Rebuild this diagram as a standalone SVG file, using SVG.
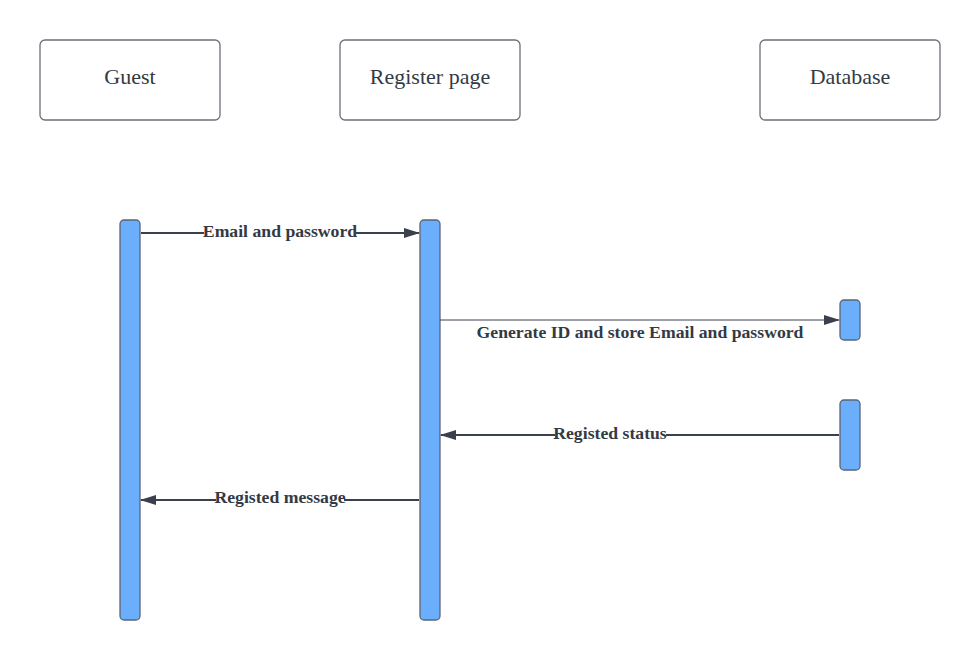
<svg xmlns="http://www.w3.org/2000/svg" width="980" height="660" viewBox="0 0 980 660">
<style>
.hdr{fill:#ffffff;stroke:#6b707a;stroke-width:1.3}
.htxt{font-family:"Liberation Serif","DejaVu Serif",serif;font-size:22px;fill:#333a45;text-anchor:middle}
.bar{fill:#6aaefc;stroke:#5b6577;stroke-width:1.3}
.msg{stroke:#3a414d;stroke-width:2;fill:none}
.thin{stroke:#3a414d;stroke-width:1;fill:none}
.lbl{font-family:"Liberation Serif","DejaVu Serif",serif;font-size:17.7px;font-weight:bold;fill:#333a45;text-anchor:middle}
.bg{fill:#ffffff}
</style>
<defs>
<marker id="ah" markerWidth="16" markerHeight="10" refX="15" refY="5" orient="auto" markerUnits="userSpaceOnUse">
<path d="M0,0 L16,5 L0,10 Z" fill="#3a414d"/>
</marker>
</defs>
<rect width="980" height="660" fill="#ffffff"/>
<g id="guest">
<rect class="hdr" x="40" y="40" width="180" height="80" rx="5"/>
<text class="htxt" x="130" y="84">Guest</text>
</g>
<g id="register-page">
<rect class="hdr" x="340" y="40" width="180" height="80" rx="5"/>
<text class="htxt" x="430" y="84">Register page</text>
</g>
<g id="database">
<rect class="hdr" x="760" y="40" width="180" height="80" rx="5"/>
<text class="htxt" x="850" y="84">Database</text>
</g>
<g id="guest-activation">
<rect class="bar" x="120" y="220" width="20" height="400" rx="4"/>
</g>
<g id="register-activation">
<rect class="bar" x="420" y="220" width="20" height="400" rx="4"/>
</g>
<g id="db-activation-1">
<rect class="bar" x="840" y="300" width="20" height="40" rx="4"/>
</g>
<g id="db-activation-2">
<rect class="bar" x="840" y="400" width="20" height="70" rx="4"/>
</g>
<g id="connectors">
<line class="msg" x1="141" y1="233" x2="419" y2="233" marker-end="url(#ah)"/>
<rect class="bg" x="204" y="222" width="152" height="20"/>
<text class="lbl" x="280" y="237">Email and password</text>
<line class="thin" x1="440" y1="320" x2="839" y2="320" marker-end="url(#ah)"/>
<text class="lbl" x="640" y="338">Generate ID and store Email and password</text>
<line class="msg" x1="839" y1="435" x2="441" y2="435" marker-end="url(#ah)"/>
<rect class="bg" x="555" y="424" width="111" height="20"/>
<text class="lbl" x="610" y="439">Registed status</text>
<line class="msg" x1="419" y1="500" x2="141" y2="500" marker-end="url(#ah)"/>
<rect class="bg" x="216" y="489" width="128" height="20"/>
<text class="lbl" x="280" y="503">Registed message</text>
</g>
</svg>
